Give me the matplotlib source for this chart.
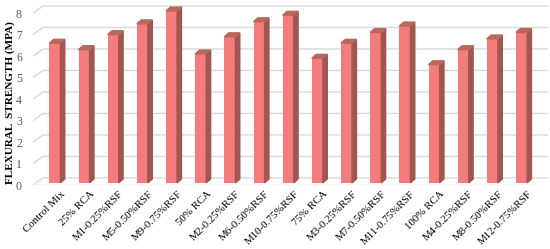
import matplotlib.pyplot as plt
from matplotlib.patches import Polygon

mixes = ["Control Mix", "25% RCA", "M1-0.25%RSF", "M5-0.50%RSF", "M9-0.75%RSF",
         "50% RCA", "M2-0.25%RSF", "M6-0.50%RSF", "M10-0.75%RSF",
         "75% RCA", "M3-0.25%RSF", "M7-0.50%RSF", "M11-0.75%RSF",
         "100% RCA", "M4-0.25%RSF", "M8-0.50%RSF", "M12-0.75%RSF"]
strength = [6.5, 6.2, 6.9, 7.4, 8.0,
            6.0, 6.8, 7.5, 7.8,
            5.8, 6.5, 7.0, 7.3,
            5.5, 6.2, 6.7, 7.0]
yticks = [0, 1, 2, 3, 4, 5, 6, 7, 8]

plt.rcParams['font.family'] = ['Liberation Serif', 'DejaVu Serif']

fig = plt.figure(figsize=(5.5, 2.49), dpi=100)
ax = fig.add_axes([0.06, 0.257, 0.936, 0.731])

x0, x1 = -0.75, 16.9
wall_dx, wall_dy = 0.34, 0.33     # perspective shift of the back wall
bar_w = 0.38
bar_dx, bar_dy = 0.15, 0.18       # depth of each column
base = 0.1

grid_c = "#d9d9d9"
# back-wall gridlines with the slanted side-wall part
for v in yticks:
    ax.plot([x0, x0 + wall_dx, x1], [v, v + wall_dy, v + wall_dy],
            color=grid_c, lw=1, zorder=1)
# floor front edge
ax.plot([x0, x1 - wall_dx], [0, 0], color=grid_c, lw=1, zorder=1)

front_c = "#f47c7c"
side_c = "#a3554f"
top_c = "#b9685c"
for i, v in enumerate(strength):
    left = i - bar_w / 2
    right = i + bar_w / 2
    top = v + base
    ax.bar(i, v, bottom=base, width=bar_w, color=front_c, zorder=3)
    ax.add_patch(Polygon([(right, base), (right + bar_dx, base + bar_dy),
                          (right + bar_dx, top + bar_dy), (right, top)],
                         closed=True, color=side_c, zorder=3))
    ax.add_patch(Polygon([(left, top), (left + bar_dx, top + bar_dy),
                          (right + bar_dx, top + bar_dy), (right, top)],
                         closed=True, color=top_c, zorder=3))

ax.set_xlim(x0, x1)
ax.set_ylim(0, 8.47)
ax.set_yticks(yticks)
ax.set_yticklabels([str(t) for t in yticks], color="#595959", fontsize=8.5)
ax.set_xticks([i + 0.2 for i in range(len(mixes))])
ax.set_xticklabels(mixes, rotation=45, ha="right", rotation_mode="anchor",
                   fontsize=7.8)
ax.tick_params(length=0, axis="y", pad=8)
ax.tick_params(length=0, axis="x", pad=3)
for s in ax.spines.values():
    s.set_visible(False)

fig.text(0.018, 0.59, "FLEXURAL  STRENGTH (MPA)", rotation=90, fontsize=8,
         fontweight="bold", ha="center", va="center")

fig.savefig("out.png")
plt.close(fig)
